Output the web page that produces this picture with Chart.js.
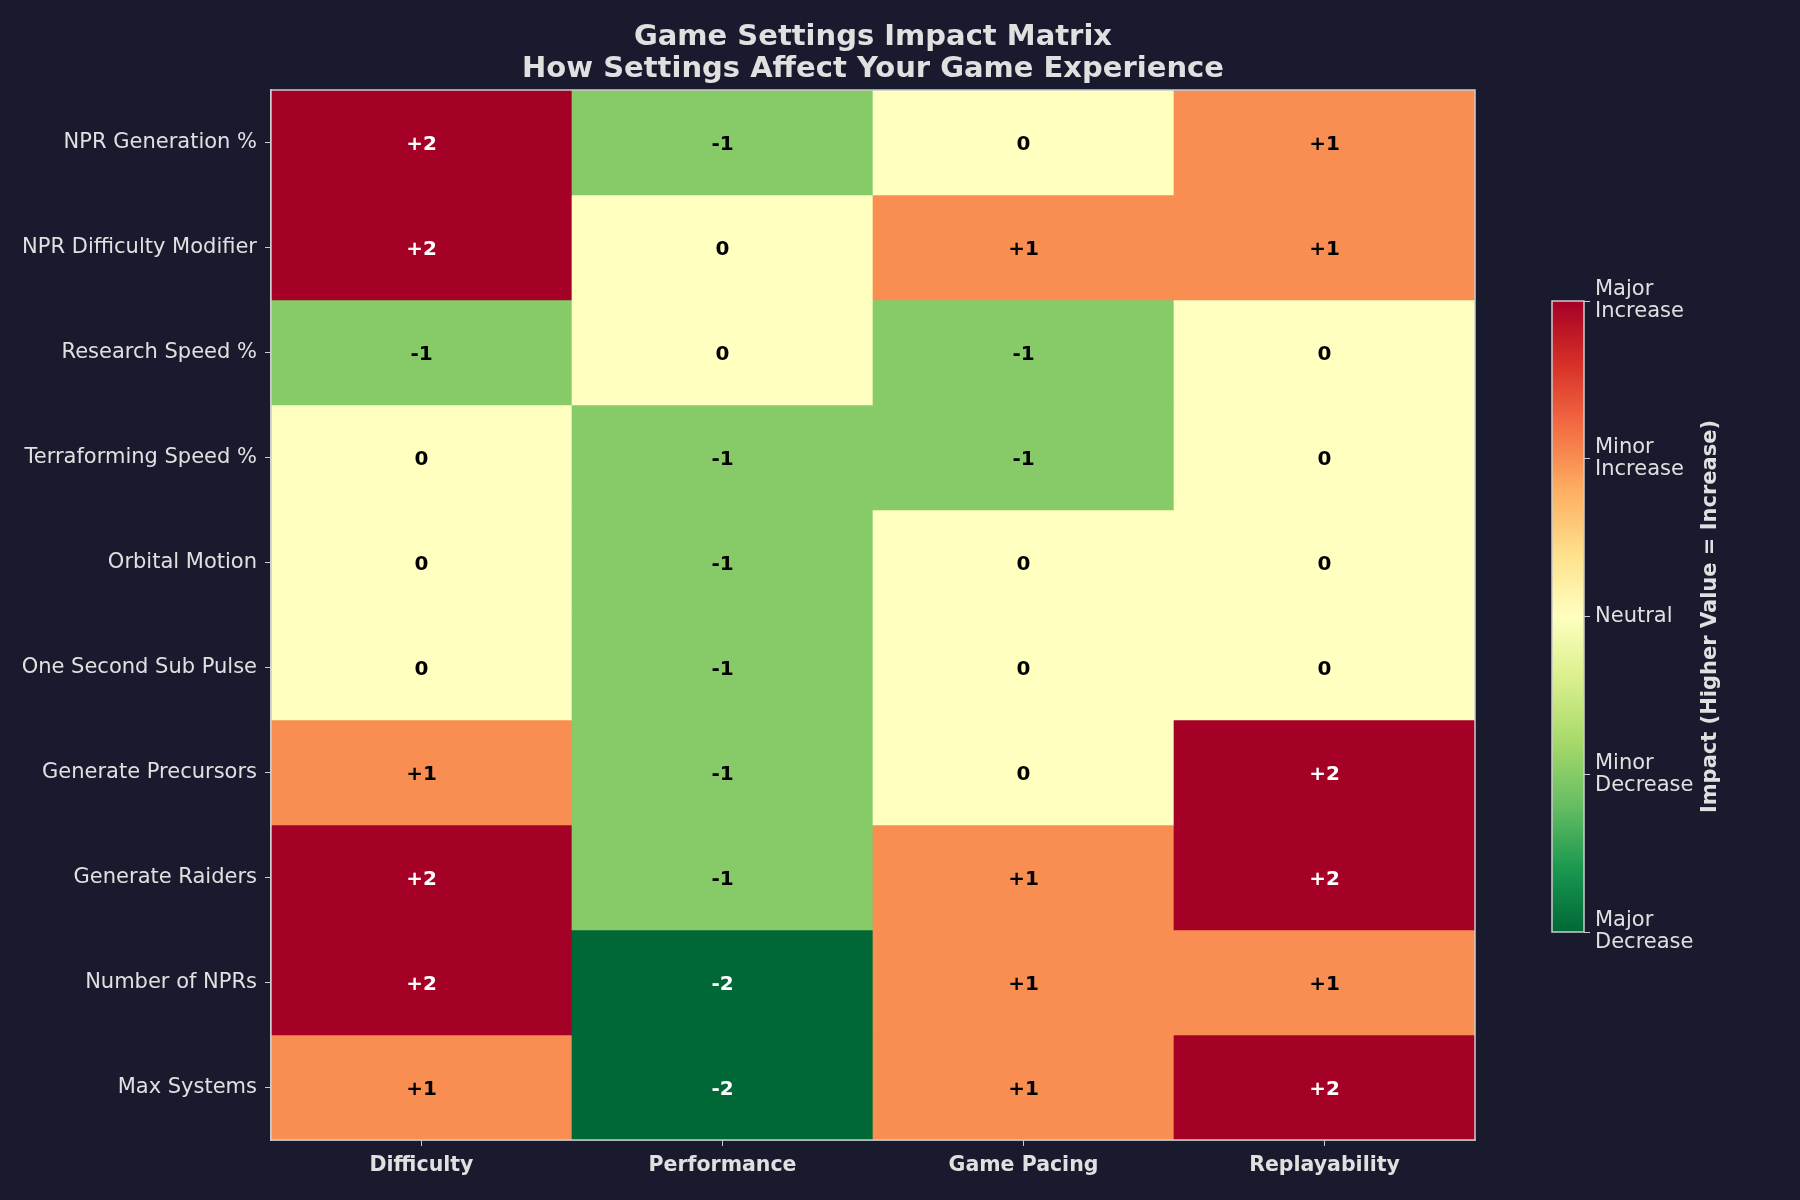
<!DOCTYPE html>
<html>
<head>
<meta charset="utf-8">
<script src="https://cdn.jsdelivr.net/npm/chart.js@4.4.1/dist/chart.umd.min.js"></script>
<style>
  body { margin: 0; background: #1a1a2e; }
  #wrap { position: relative; width: 1800px; height: 1200px; }
  #main { position: absolute; left: 0; top: 0; }
  #cbar { position: absolute; left: 1540px; top: 260px; }
</style>
</head>
<body>
<div id="wrap">
  <canvas id="main" width="1800" height="1200"></canvas>
  <canvas id="cbar" width="260" height="720"></canvas>
</div>
<script>
const settings = [
  "NPR Generation %",
  "NPR Difficulty Modifier",
  "Research Speed %",
  "Terraforming Speed %",
  "Orbital Motion",
  "One Second Sub Pulse",
  "Generate Precursors",
  "Generate Raiders",
  "Number of NPRs",
  "Max Systems",
];
const aspects = ["Difficulty", "Performance", "Game Pacing", "Replayability"];

// valores de impacto por fila (settings) y columna (aspects)
const npr_generation = [2, -1, 0, 1];
const npr_difficulty = [2, 0, 1, 1];
const research_speed = [-1, 0, -1, 0];
const terraforming_speed = [0, -1, -1, 0];
const orbital_motion = [0, -1, 0, 0];
const sub_pulse = [0, -1, 0, 0];
const precursors = [1, -1, 0, 2];
const raiders = [2, -1, 1, 2];
const number_nprs = [2, -2, 1, 1];
const max_systems = [1, -2, 1, 2];

const impact = [
  npr_generation, npr_difficulty, research_speed, terraforming_speed,
  orbital_motion, sub_pulse, precursors, raiders, number_nprs, max_systems,
];

const cbTickValues = [-2, -1, 0, 1, 2];
const cbTickLabels = [
  ["Major", "Decrease"],
  ["Minor", "Decrease"],
  "Neutral",
  ["Minor", "Increase"],
  ["Major", "Increase"],
];

// RdYlGn invertido
const rdylgn_r = ["#006837", "#1a9850", "#66bd63", "#a6d96a", "#d9ef8b",
  "#ffffbf", "#fee08b", "#fdae61", "#f46d43", "#d73027", "#a50026"];

function hexToRgb(h) {
  return [parseInt(h.substr(1, 2), 16), parseInt(h.substr(3, 2), 16), parseInt(h.substr(5, 2), 16)];
}

function colorFor(v) {
  const t = (v + 2) / 4 * 10;
  const i = Math.min(9, Math.floor(t));
  const f = t - i;
  const a = hexToRgb(rdylgn_r[i]);
  const b = hexToRgb(rdylgn_r[i + 1]);
  const c = a.map((x, k) => Math.round(x + (b[k] - x) * f));
  return `rgb(${c[0]},${c[1]},${c[2]})`;
}

const txt = "#e0e0e0";
const edge = "#cccccc";
Chart.defaults.font.family = "'DejaVu Sans', sans-serif";
Chart.defaults.color = txt;

const datasets = impact.map((row, r) => ({
  label: settings[r],
  data: row.map(() => [r, r + 1]),
  backgroundColor: row.map((v) => colorFor(v)),
  borderWidth: 0,
  barPercentage: 1,
  categoryPercentage: 1,
  grouped: false,
}));

//textos de celdas, borde y titulo
const cellText = {
  id: "cellText",
  afterDatasetsDraw(chart) {
    const ctx = chart.ctx;
    const xs = chart.scales.x;
    const ys = chart.scales.y;
    ctx.save();
    ctx.font = "bold 20px 'DejaVu Sans'";
    ctx.textAlign = "center";
    ctx.textBaseline = "middle";
    impact.forEach((row, r) => {
      row.forEach((v, c) => {
        ctx.fillStyle = Math.abs(v) === 2 ? "#ffffff" : "#000000";
        const s = v > 0 ? "+" + v : String(v);
        ctx.fillText(s, xs.getPixelForValue(c), ys.getPixelForValue(r + 0.5) + 2);
      });
    });
    const a = chart.chartArea;
    ctx.strokeStyle = edge;
    ctx.lineWidth = 1.5;
    ctx.strokeRect(a.left, a.top, a.right - a.left, a.bottom - a.top);

    const cx = (a.left + a.right) / 2;
    ctx.fillStyle = txt;
    ctx.font = "bold 29px 'DejaVu Sans'";
    ctx.textBaseline = "alphabetic";
    ctx.fillText("Game Settings Impact Matrix", cx, 45);
    ctx.fillText("How Settings Affect Your Game Experience", cx, 77);
    ctx.restore();
  },
};

new Chart(document.getElementById("main"), {
  type: "bar",
  data: { labels: aspects, datasets: datasets },
  options: {
    responsive: false,
    devicePixelRatio: 1,
    animation: false,
    layout: { padding: { left: 0, right: 325, top: 90, bottom: 0 } },
    plugins: {
      legend: { display: false },
      tooltip: { enabled: false },
      title: { display: false },
    },
    scales: {
      x: {
        type: "category",
        grid: { display: true, drawOnChartArea: false, offset: false, color: edge, tickLength: 6 },
        border: { display: true, color: edge, width: 1.5 },
        ticks: { color: txt, font: { size: 20.5, weight: "bold" }, padding: 7 },
        afterFit(s) { s.height = 60; },
      },
      y: {
        type: "linear",
        min: 0,
        max: 10,
        reverse: true,
        grid: { display: true, drawOnChartArea: false, color: edge, tickLength: 6 },
        border: { display: true, color: edge, width: 1.5 },
        afterBuildTicks(s) {
          s.ticks = settings.map((_, i) => ({ value: i + 0.5 }));
        },
        ticks: {
          color: txt,
          font: { size: 21 },
          padding: 8,
          autoSkip: false,
          callback: (v) => settings[Math.floor(v)],
        },
        afterFit(s) { s.width = 271; },
      },
    },
  },
  plugins: [cellText],
});

// barra de colores
const cbarTitle = {
  id: "cbarTitle",
  afterDraw(chart) {
    const ctx = chart.ctx;
    const a = chart.chartArea;
    ctx.save();
    ctx.strokeStyle = edge;
    ctx.lineWidth = 1.5;
    ctx.strokeRect(a.left, a.top, a.right - a.left, a.bottom - a.top);
    ctx.translate(171, (a.top + a.bottom) / 2);
    ctx.rotate(-Math.PI / 2);
    ctx.fillStyle = txt;
    ctx.font = "bold 21px 'DejaVu Sans'";
    ctx.textAlign = "center";
    ctx.textBaseline = "middle";
    ctx.fillText("Impact (Higher Value = Increase)", 0, 0);
    ctx.restore();
  },
};

new Chart(document.getElementById("cbar"), {
  type: "bar",
  data: {
    labels: ["cb"],
    datasets: [{
      data: [[-2, 2]],
      borderWidth: 0,
      barPercentage: 1,
      categoryPercentage: 1,
      backgroundColor(context) {
        const area = context.chart.chartArea;
        if (!area) return "#ffffbf";
        const g = context.chart.ctx.createLinearGradient(0, area.bottom, 0, area.top);
        rdylgn_r.forEach((c, i) => g.addColorStop(i / 10, c));
        return g;
      },
    }],
  },
  options: {
    responsive: false,
    devicePixelRatio: 1,
    animation: false,
    layout: { padding: { left: 12, top: 41, bottom: 48, right: 0 } },
    plugins: { legend: { display: false }, tooltip: { enabled: false } },
    scales: {
      x: { display: false },
      y: {
        position: "right",
        min: -2,
        max: 2,
        grid: { display: true, drawOnChartArea: false, color: edge, tickLength: 6 },
        border: { display: false },
        afterBuildTicks(s) {
          s.ticks = cbTickValues.map((v) => ({ value: v }));
        },
        ticks: {
          color: txt,
          font: { size: 21, lineHeight: 1.05 },
          padding: 5,
          callback: (v) => cbTickLabels[cbTickValues.indexOf(v)],
        },
        afterFit(s) { s.width = 216; },
      },
    },
  },
  plugins: [cbarTitle],
});
</script>
</body>
</html>
